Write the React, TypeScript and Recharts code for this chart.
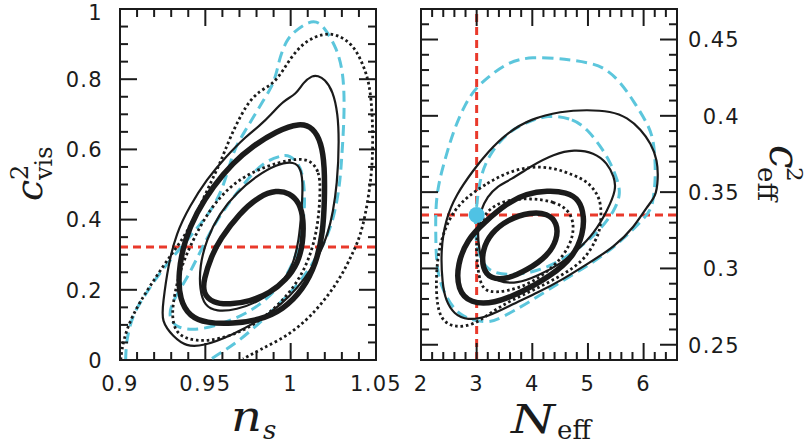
import { ScatterChart, Scatter, XAxis, YAxis, ReferenceLine } from "recharts";

type Pt = [number, number];

const INK = "#1b1b1b";
const CYAN = "#5cc6dc";
const RED = "#e9392b";
const DOT = "#4fc2e4";
const SANS = "'DejaVu Sans', sans-serif";
const SERIF = "'DejaVu Serif', serif";

// ---- axes ----
const nsTicks = [0.9, 0.91, 0.92, 0.93, 0.94, 0.95, 0.96, 0.97, 0.98, 0.99, 1, 1.01, 1.02, 1.03, 1.04, 1.05];
const nsMajor = [0.9, 0.95, 1, 1.05];
const cvisTicks = [0, 0.05, 0.1, 0.15, 0.2, 0.25, 0.3, 0.35, 0.4, 0.45, 0.5, 0.55, 0.6, 0.65, 0.7, 0.75, 0.8, 0.85, 0.9, 0.95, 1];
const cvisMajor = [0, 0.2, 0.4, 0.6, 0.8, 1];
const neffTicks = [2, 2.2, 2.4, 2.6, 2.8, 3, 3.2, 3.4, 3.6, 3.8, 4, 4.2, 4.4, 4.6, 4.8, 5, 5.2, 5.4, 5.6, 5.8, 6, 6.2, 6.4, 6.6];
const neffMajor = [2, 3, 4, 5, 6];
const ceffTicks = [0.24, 0.25, 0.26, 0.27, 0.28, 0.29, 0.3, 0.31, 0.32, 0.33, 0.34, 0.35, 0.36, 0.37, 0.38, 0.39, 0.4, 0.41, 0.42, 0.43, 0.44, 0.45, 0.46, 0.47];
const ceffMajor = [0.25, 0.3, 0.35, 0.4, 0.45];

// fiducial values
const cvisFid = 0.322;
const neffFid = 3.0;
const ceffFid = 0.335;

// ---- left panel: n_s vs c^2_vis ----
const nsThick1: Pt[] = [
  [0.9490, 0.229], [0.9535, 0.295], [0.9584, 0.343], [0.9701, 0.419], [0.9818, 0.467], [0.9916, 0.484],
  [0.9994, 0.476], [1.0053, 0.448], [1.0076, 0.400], [1.0072, 0.333], [1.0043, 0.276], [0.9975, 0.229],
  [0.9877, 0.190], [0.9760, 0.167], [0.9643, 0.158], [0.9545, 0.162], [0.9486, 0.190],
];
const nsThick2: Pt[] = [
  [1.0053, 0.676], [0.9916, 0.652], [0.9779, 0.610], [0.9662, 0.562], [0.9545, 0.495], [0.9447, 0.419],
  [0.9379, 0.343], [0.9340, 0.248], [0.9350, 0.171], [0.9408, 0.124], [0.9506, 0.105], [0.9662, 0.103],
  [0.9818, 0.114], [0.9955, 0.143], [1.0072, 0.200], [1.0150, 0.276], [1.0189, 0.362], [1.0199, 0.457],
  [1.0199, 0.552], [1.0180, 0.619], [1.0131, 0.662],
];
const nsThin2: Pt[] = [
  [1.0127, 0.811], [1.0072, 0.790], [1.0033, 0.757], [0.9955, 0.738], [0.9887, 0.700], [0.9818, 0.667],
  [0.9740, 0.638], [0.9623, 0.581], [0.9506, 0.514], [0.9408, 0.438], [0.9330, 0.362], [0.9281, 0.267],
  [0.9252, 0.162], [0.9242, 0.110], [0.9311, 0.067], [0.9389, 0.038], [0.9486, 0.040], [0.9643, 0.067],
  [0.9896, 0.133], [1.0092, 0.229], [1.0229, 0.352], [1.0277, 0.514], [1.0283, 0.629], [1.0277, 0.700],
  [1.0248, 0.767], [1.0199, 0.800], [1.0160, 0.810],
];
const nsThin1: Pt[] = [
  [1.0023, 0.567], [1.0063, 0.543], [1.0072, 0.495], [1.0063, 0.419], [1.0049, 0.343], [1.0014, 0.267],
  [0.9936, 0.210], [0.9818, 0.167], [0.9682, 0.143], [0.9564, 0.138], [0.9496, 0.154], [0.9467, 0.200],
  [0.9467, 0.267], [0.9506, 0.343], [0.9584, 0.419], [0.9682, 0.476], [0.9799, 0.524], [0.9916, 0.557],
];
const nsDot2: Pt[] = [
  [0.9004, 0.0], [0.9018, 0.057], [0.9076, 0.133], [0.9174, 0.210], [0.9291, 0.295], [0.9408, 0.371],
  [0.9525, 0.500], [0.9584, 0.557], [0.9643, 0.633], [0.9740, 0.729], [0.9818, 0.767], [0.9896, 0.786],
  [0.9955, 0.824], [1.0014, 0.871], [1.0092, 0.910], [1.0189, 0.930], [1.0268, 0.929], [1.0365, 0.900],
  [1.0424, 0.843], [1.0463, 0.786], [1.0479, 0.700], [1.0482, 0.605], [1.0473, 0.514], [1.0424, 0.371],
  [1.0365, 0.305], [1.0287, 0.229], [1.0170, 0.152], [1.0053, 0.095], [0.9936, 0.057], [0.9818, 0.029],
  [0.9721, 0.003],
];
const nsDot1: Pt[] = [
  [1.0111, 0.571], [1.0170, 0.538], [1.0174, 0.476], [1.0160, 0.381], [1.0111, 0.286], [1.0014, 0.200],
  [0.9877, 0.133], [0.9740, 0.086], [0.9584, 0.059], [0.9447, 0.052], [0.9330, 0.071], [0.9301, 0.124],
  [0.9320, 0.190], [0.9359, 0.267], [0.9428, 0.343], [0.9525, 0.429], [0.9643, 0.495], [0.9779, 0.538],
  [0.9936, 0.564], [1.0033, 0.573],
];
const nsCyan2: Pt[] = [
  [0.9033, 0.0], [0.9037, 0.057], [0.9076, 0.133], [0.9154, 0.190], [0.9232, 0.248], [0.9330, 0.305],
  [0.9428, 0.362], [0.9525, 0.419], [0.9604, 0.486], [0.9662, 0.595], [0.9721, 0.643], [0.9779, 0.690],
  [0.9838, 0.738], [0.9887, 0.776], [0.9916, 0.814], [0.9936, 0.862], [0.9975, 0.910], [1.0014, 0.933],
  [1.0111, 0.967], [1.0170, 0.962], [1.0209, 0.938], [1.0268, 0.890], [1.0307, 0.824], [1.0316, 0.729],
  [1.0307, 0.633], [1.0297, 0.562], [1.0287, 0.495], [1.0248, 0.390], [1.0170, 0.305], [1.0053, 0.219],
  [0.9936, 0.162], [0.9838, 0.114], [0.9682, 0.048], [0.9584, 0.019], [0.9525, 0.0],
];
const nsCyan1: Pt[] = [
  [0.9994, 0.586], [0.9936, 0.581], [0.9857, 0.567], [0.9779, 0.533], [0.9701, 0.486], [0.9623, 0.438],
  [0.9545, 0.381], [0.9467, 0.305], [0.9389, 0.229], [0.9311, 0.171], [0.9281, 0.124], [0.9330, 0.090],
  [0.9467, 0.084], [0.9643, 0.110], [0.9818, 0.152], [0.9975, 0.229], [1.0053, 0.324], [1.0082, 0.419],
  [1.0082, 0.486], [1.0063, 0.552],
];

// ---- right panel: N_eff vs c^2_eff ----
const neThick1: Pt[] = [
  [3.971, 0.337], [4.271, 0.336], [4.451, 0.330], [4.451, 0.319], [4.271, 0.308], [3.911, 0.299],
  [3.552, 0.293], [3.252, 0.293], [3.102, 0.300], [3.102, 0.312], [3.252, 0.323], [3.552, 0.332],
];
const neThick2: Pt[] = [
  [4.271, 0.351], [4.613, 0.350], [4.853, 0.345], [4.931, 0.334], [4.913, 0.323], [4.751, 0.308],
  [4.332, 0.295], [3.791, 0.284], [3.312, 0.277], [2.892, 0.277], [2.653, 0.286], [2.653, 0.303],
  [2.833, 0.319], [3.132, 0.330], [3.552, 0.343], [3.893, 0.349],
];
const neThin2: Pt[] = [
  [2.953, 0.365], [3.192, 0.376], [3.552, 0.389], [3.971, 0.398], [4.511, 0.403], [4.991, 0.404],
  [5.410, 0.403], [5.710, 0.399], [5.950, 0.391], [6.130, 0.382], [6.250, 0.371], [6.261, 0.358],
  [6.219, 0.347], [6.069, 0.341], [5.830, 0.327], [5.470, 0.314], [4.991, 0.303], [4.511, 0.292],
  [4.091, 0.284], [3.671, 0.277], [3.192, 0.268], [2.832, 0.266], [2.593, 0.270], [2.443, 0.279],
  [2.383, 0.290], [2.353, 0.312], [2.443, 0.332], [2.623, 0.348],
];
const neThin1: Pt[] = [
  [3.611, 0.358], [3.971, 0.367], [4.391, 0.375], [4.751, 0.378], [5.111, 0.376], [5.350, 0.369],
  [5.470, 0.360], [5.512, 0.352], [5.350, 0.338], [5.111, 0.323], [4.811, 0.312], [4.511, 0.303],
  [4.091, 0.295], [3.731, 0.290], [3.371, 0.291], [3.131, 0.299], [3.041, 0.312], [3.011, 0.327],
  [3.071, 0.338], [3.192, 0.347], [3.371, 0.354],
];
const neDot2: Pt[] = [
  [2.832, 0.347], [3.192, 0.356], [3.552, 0.363], [3.971, 0.367], [4.391, 0.366], [4.751, 0.361],
  [4.991, 0.357], [5.170, 0.349], [5.242, 0.341], [5.230, 0.327], [5.152, 0.319], [4.931, 0.305],
  [4.511, 0.295], [4.032, 0.286], [3.612, 0.279], [3.252, 0.271], [2.952, 0.263], [2.593, 0.261],
  [2.323, 0.267], [2.263, 0.286], [2.293, 0.308], [2.413, 0.325], [2.593, 0.338],
];
const neDot1: Pt[] = [
  [3.971, 0.346], [4.391, 0.344], [4.673, 0.338], [4.763, 0.327], [4.673, 0.314], [4.391, 0.301],
  [3.971, 0.290], [3.552, 0.285], [3.192, 0.284], [3.054, 0.290], [2.994, 0.308], [2.994, 0.325],
  [3.192, 0.339], [3.534, 0.345],
];
const neCyan2: Pt[] = [
  [2.263, 0.349], [2.263, 0.323], [2.275, 0.303], [2.353, 0.288], [2.652, 0.268], [3.192, 0.264],
  [3.414, 0.267], [3.953, 0.278], [4.493, 0.291], [5.152, 0.305], [5.632, 0.319], [5.931, 0.330],
  [6.141, 0.338], [6.189, 0.349], [6.219, 0.362], [6.189, 0.384], [6.070, 0.395], [5.830, 0.409],
  [5.590, 0.422], [5.290, 0.432], [4.990, 0.435], [4.630, 0.437], [3.971, 0.439], [3.552, 0.435],
  [3.192, 0.425], [2.952, 0.417], [2.772, 0.406], [2.592, 0.391], [2.442, 0.373],
];
const neCyan1: Pt[] = [
  [4.272, 0.401], [4.751, 0.398], [4.991, 0.391], [5.230, 0.380], [5.410, 0.369], [5.530, 0.358],
  [5.590, 0.349], [5.483, 0.338], [5.213, 0.325], [4.871, 0.314], [4.511, 0.305], [4.151, 0.299],
  [3.791, 0.296], [3.432, 0.296], [3.192, 0.299], [3.042, 0.308], [2.964, 0.323], [2.994, 0.341],
  [3.072, 0.362], [3.252, 0.376], [3.552, 0.389], [3.852, 0.395],
];
const fiducialPoint = [{ x: neffFid, y: ceffFid }];

const STYLES: Record<string, object> = {
  thick: { stroke: INK, strokeWidth: 5.5 },
  thin: { stroke: INK, strokeWidth: 2.2 },
  dot: { stroke: INK, strokeWidth: 2.8, strokeDasharray: "2.6 2.8" },
  dash: { stroke: CYAN, strokeWidth: 3, strokeDasharray: "11 6" },
};

const NoDot = () => <g />;

function contour(key: string, pts: Pt[], style: string, closed = true) {
  return (
    <Scatter
      key={key}
      data={pts.map(([x, y]) => ({ x, y }))}
      line={{ ...STYLES[style], fill: "none", strokeLinejoin: "round" }}
      lineType="joint"
      lineJointType={closed ? "basisClosed" : "basis"}
      shape={NoDot}
      isAnimationActive={false}
    />
  );
}

type Side = "bottom" | "top" | "left" | "right";

const isIn = (list: number[], v: number) => list.some((m) => Math.abs(m - v) < 1e-9);
const fmt = (v: number) => String(Number(v.toFixed(3)));

function edgeTick(side: Side, majors: number[], labelOffset?: number) {
  return function Tick(props: any) {
    const { x, y, payload } = props;
    const v = payload.value as number;
    const major = isIn(majors, v);
    const len = major ? 17 : 8;
    let x2 = x;
    let y2 = y;
    if (side === "bottom") y2 = y - len;
    if (side === "top") y2 = y + len;
    if (side === "left") x2 = x + len;
    if (side === "right") x2 = x - len;
    let label = null;
    if (labelOffset !== undefined && major) {
      const common = { fontFamily: SANS, fontSize: 21, letterSpacing: 1.3, fill: INK };
      // keep the topmost label inside the page
      const ly = Math.max(y, 12);
      if (side === "bottom")
        label = <text x={x} y={y + labelOffset} textAnchor="middle" {...common}>{fmt(v)}</text>;
      if (side === "left")
        label = <text x={x - labelOffset} y={ly} dy="0.37em" textAnchor="end" {...common}>{fmt(v)}</text>;
      if (side === "right")
        label = <text x={x + labelOffset} y={ly} dy="0.37em" textAnchor="end" {...common}>{fmt(v)}</text>;
    }
    return (
      <g>
        <line x1={x} y1={y} x2={x2} y2={y2} stroke={INK} strokeWidth={2} />
        {label}
      </g>
    );
  };
}

const frame = { stroke: INK, strokeWidth: 2, strokeLinecap: "square" as const };
const axisCommon = {
  type: "number" as const,
  allowDataOverflow: true,
  interval: 0 as const,
  tickSize: 0,
  tickMargin: 0,
  tickLine: false,
  axisLine: frame,
};

export default function App() {
  return (
    <div style={{ position: "absolute", left: 0, top: 0, width: 810, height: 446, background: "#fff" }}>
      <div style={{ position: "absolute", left: 0, top: 0 }}>
        <ScatterChart width={810} height={446} margin={{ top: 8, right: 433, bottom: 85, left: 119 }}>
          <XAxis xAxisId={0} dataKey="x" domain={[0.9, 1.05]} ticks={nsTicks} height={1} {...axisCommon}
            tick={edgeTick("bottom", nsMajor, 31)} />
          <XAxis xAxisId="top" orientation="top" dataKey="x" domain={[0.9, 1.05]} ticks={nsTicks} height={1} {...axisCommon}
            tick={edgeTick("top", nsMajor)} />
          <YAxis yAxisId={0} dataKey="y" domain={[0, 1]} ticks={cvisTicks} width={1} {...axisCommon}
            tick={edgeTick("left", cvisMajor, 17)} />
          <YAxis yAxisId="right" orientation="right" dataKey="y" domain={[0, 1]} ticks={cvisTicks} width={1} {...axisCommon}
            tick={edgeTick("right", cvisMajor)} />
          {contour("nsCyan2", nsCyan2, "dash", false)}
          {contour("nsDot2", nsDot2, "dot", false)}
          {contour("nsThin2", nsThin2, "thin")}
          {contour("nsCyan1", nsCyan1, "dash")}
          {contour("nsDot1", nsDot1, "dot")}
          {contour("nsThin1", nsThin1, "thin")}
          {contour("nsThick2", nsThick2, "thick")}
          {contour("nsThick1", nsThick1, "thick")}
          <ReferenceLine y={cvisFid} stroke={RED} strokeWidth={3} strokeDasharray="8 5" />
        </ScatterChart>
      </div>
      <div style={{ position: "absolute", left: 0, top: 0 }}>
        <ScatterChart width={810} height={446} margin={{ top: 8, right: 132, bottom: 85, left: 420 }}>
          <XAxis xAxisId={0} dataKey="x" domain={[2, 6.6]} ticks={neffTicks} height={1} {...axisCommon}
            tick={edgeTick("bottom", neffMajor, 31)} />
          <XAxis xAxisId="top" orientation="top" dataKey="x" domain={[2, 6.6]} ticks={neffTicks} height={1} {...axisCommon}
            tick={edgeTick("top", neffMajor)} />
          <YAxis yAxisId={0} dataKey="y" domain={[0.24, 0.47]} ticks={ceffTicks} width={1} {...axisCommon}
            tick={edgeTick("left", ceffMajor)} />
          <YAxis yAxisId="right" orientation="right" dataKey="y" domain={[0.24, 0.47]} ticks={ceffTicks} width={1} {...axisCommon}
            tick={edgeTick("right", ceffMajor, 63)} />
          {contour("neCyan2", neCyan2, "dash")}
          {contour("neCyan1", neCyan1, "dash")}
          {contour("neDot2", neDot2, "dot")}
          {contour("neDot1", neDot1, "dot")}
          {contour("neThin2", neThin2, "thin")}
          {contour("neThin1", neThin1, "thin")}
          {contour("neThick2", neThick2, "thick")}
          {contour("neThick1", neThick1, "thick")}
          <ReferenceLine x={neffFid} stroke={RED} strokeWidth={3} strokeDasharray="8 5" />
          <ReferenceLine y={ceffFid} stroke={RED} strokeWidth={3} strokeDasharray="8 5" />
          <Scatter data={fiducialPoint} isAnimationActive={false}
            shape={(p: any) => <circle cx={p.cx} cy={p.cy} r={8} fill={DOT} />} />
        </ScatterChart>
      </div>
      <svg width={810} height={446} style={{ position: "absolute", left: 0, top: 0 }}>
        <g fill={INK}>
          <text x={231} y={431} fontFamily={SERIF} fontStyle="italic" fontSize={42} textLength={31} lengthAdjust="spacingAndGlyphs">n</text>
          <text x={263} y={439} fontFamily={SERIF} fontStyle="italic" fontSize={26}>s</text>
          <text x={511} y={433} fontFamily={SERIF} fontStyle="italic" fontSize={39} textLength={44} lengthAdjust="spacingAndGlyphs">N</text>
          <text x={557} y={439} fontFamily={SERIF} fontSize={26}>eff</text>
          <text x={42} y={201} transform="rotate(-90 42 201)" fontFamily={SERIF} fontStyle="italic" fontSize={38}>c</text>
          <text x={28} y={180} transform="rotate(-90 28 180)" fontFamily={SERIF} fontSize={24}>2</text>
          <text x={52} y={180} transform="rotate(-90 52 180)" fontFamily={SERIF} fontSize={24}>vis</text>
          <text x={770} y={145} transform="rotate(90 770 145)" fontFamily={SERIF} fontStyle="italic" fontSize={42}>c</text>
          <text x={787} y={167} transform="rotate(90 787 167)" fontFamily={SERIF} fontSize={23}>2</text>
          <text x={758} y={167} transform="rotate(90 758 167)" fontFamily={SERIF} fontSize={26}>eff</text>
        </g>
      </svg>
    </div>
  );
}
